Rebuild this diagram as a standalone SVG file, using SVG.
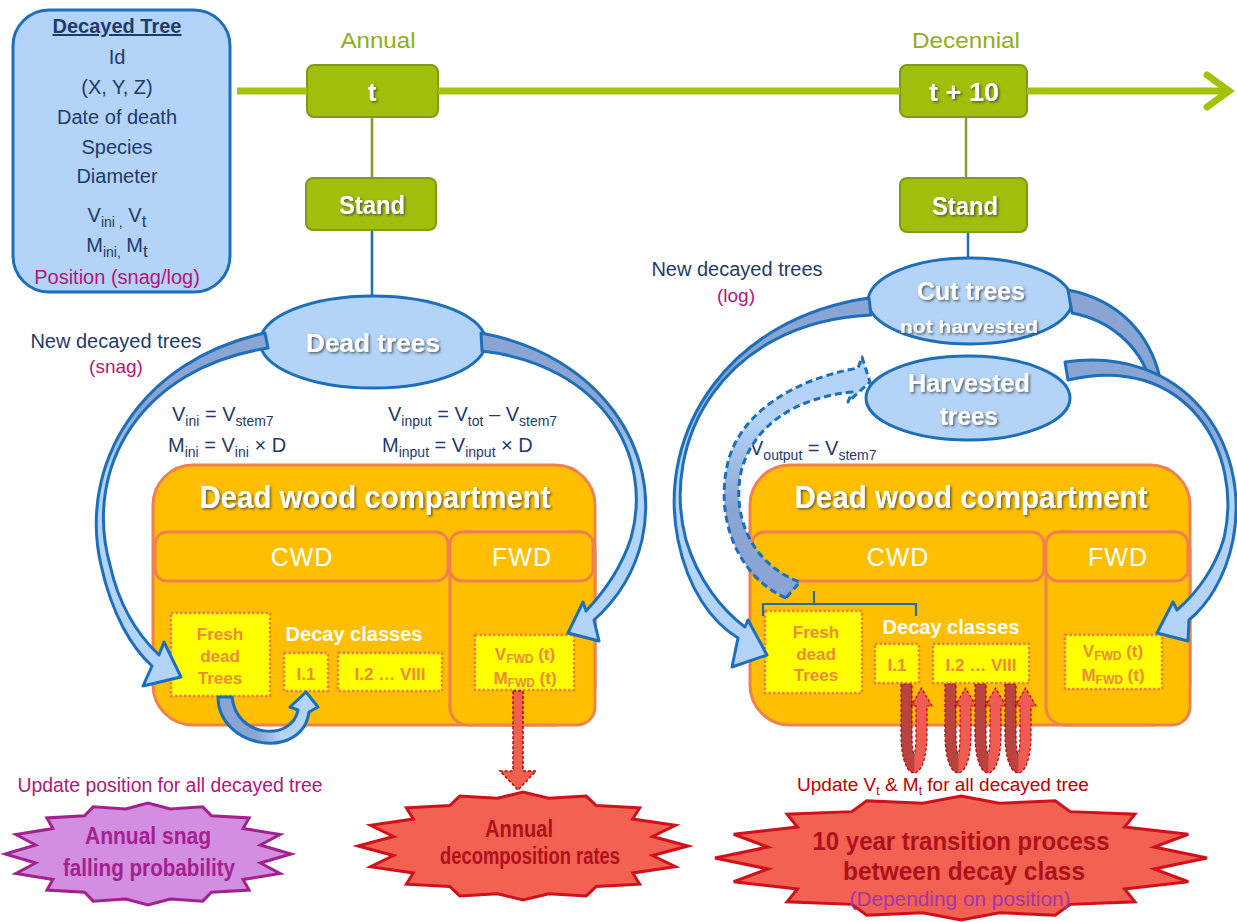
<svg xmlns="http://www.w3.org/2000/svg" xmlns:xlink="http://www.w3.org/1999/xlink" width="1237" height="922" viewBox="0 0 1237 922">
<style>
text{font-family:"Liberation Sans",Arial,sans-serif}
.navy{fill:#1f3a6e;font-size:20px}
.mag{fill:#b3157d}
.green{fill:#8fae17;font-size:22px}
.wt{fill:#fff;font-weight:bold;filter:url(#ts)}
.cw{fill:#fff;font-size:25px;letter-spacing:1px}
.or{fill:#ef8a3a;font-weight:bold;font-size:17px}
.dc{fill:#fff;font-weight:bold;font-size:20px}
.gbox{fill:#9fbf0c;stroke:#7e9c12;stroke-width:2}
.ell{fill:#b3d3f8;stroke:#1e6fba;stroke-width:3}
.comp{fill:#ffbf00;stroke:#f0804f;stroke-width:3}
.ybox{fill:#ffff00;stroke:#f07d4f;stroke-width:2.5;stroke-dasharray:2.5 2}
.barr{stroke:#1e6fba;stroke-width:3;stroke-linejoin:round}
.uarr{fill:url(#ug);stroke:#c00000;stroke-width:1.2;stroke-dasharray:3 2}
.sub{font-size:14px}
.bt{font-weight:bold;font-size:23px}
</style>
<defs>
<filter id="ts" x="-10%" y="-30%" width="125%" height="160%"><feDropShadow dx="1.5" dy="1.5" stdDeviation="0.9" flood-color="#3a3a3a" flood-opacity="0.75"/></filter>
<polygon id="burst" vector-effect="non-scaling-stroke" points="1,0 0.785,0.176 0.924,0.383 0.665,0.5 0.707,0.707 0.444,0.748 0.383,0.924 0.156,0.883 0,1 -0.156,0.883 -0.383,0.924 -0.444,0.748 -0.707,0.707 -0.665,0.5 -0.924,0.383 -0.785,0.176 -1,0 -0.785,-0.176 -0.924,-0.383 -0.665,-0.5 -0.707,-0.707 -0.444,-0.748 -0.383,-0.924 -0.156,-0.883 0,-1 0.156,-0.883 0.383,-0.924 0.444,-0.748 0.707,-0.707 0.665,-0.5 0.924,-0.383 0.785,-0.176"/>
<linearGradient id="g1" gradientUnits="userSpaceOnUse" x1="0" y1="330" x2="0" y2="470"><stop offset="0" stop-color="#8aa5d3"/><stop offset="0.55" stop-color="#8aa5d3"/><stop offset="1" stop-color="#b3d3f8"/></linearGradient>
<linearGradient id="g2" gradientUnits="userSpaceOnUse" x1="0" y1="295" x2="0" y2="450"><stop offset="0" stop-color="#8aa5d3"/><stop offset="0.55" stop-color="#8aa5d3"/><stop offset="1" stop-color="#b3d3f8"/></linearGradient>
<linearGradient id="g3" gradientUnits="userSpaceOnUse" x1="0" y1="360" x2="0" y2="490"><stop offset="0" stop-color="#8aa5d3"/><stop offset="0.5" stop-color="#8aa5d3"/><stop offset="1" stop-color="#b3d3f8"/></linearGradient>
<linearGradient id="g4" gradientUnits="userSpaceOnUse" x1="222" y1="0" x2="300" y2="0"><stop offset="0" stop-color="#8aa5d3"/><stop offset="0.45" stop-color="#8aa5d3"/><stop offset="0.75" stop-color="#b3d3f8"/></linearGradient>
<linearGradient id="g5" gradientUnits="userSpaceOnUse" x1="0" y1="600" x2="0" y2="420"><stop offset="0" stop-color="#8aa5d3"/><stop offset="0.5" stop-color="#8aa5d3"/><stop offset="1" stop-color="#b3d3f8"/></linearGradient>
<linearGradient id="ug" x1="0" y1="0" x2="1" y2="0"><stop offset="0" stop-color="#b9443f"/><stop offset="0.4" stop-color="#b9443f"/><stop offset="0.46" stop-color="#ef5d52"/><stop offset="1" stop-color="#ef5d52"/></linearGradient>
<path id="uarrow" d="M0,0 L0,50 C0,102 26,102 26,50 L26,22 L31,22 L20.5,4 L10,22 L15,22 L15,50 C15,76 11,76 11,50 L11,0 Z"/>
</defs>
<rect width="1237" height="922" fill="#fff"/>

<!-- Decayed tree info box -->
<g id="decayed-tree">
<rect x="13" y="10" width="217" height="282" rx="36" fill="#b3d3f8" stroke="#1e6fba" stroke-width="3"/>
<text x="117" y="33" text-anchor="middle" class="navy" font-weight="bold" font-size="19" text-decoration="underline">Decayed Tree</text>
<text x="117" y="64" text-anchor="middle" class="navy">Id</text>
<text x="117" y="94" text-anchor="middle" class="navy">(X, Y, Z)</text>
<text x="117" y="124" text-anchor="middle" class="navy">Date of death</text>
<text x="117" y="154" text-anchor="middle" class="navy">Species</text>
<text x="117" y="183" text-anchor="middle" class="navy">Diameter</text>
<text x="117" y="222" text-anchor="middle" class="navy">V<tspan class="sub" dy="5">ini ,</tspan><tspan dy="-5"> V</tspan><tspan font-size="17" dy="5">t</tspan></text>
<text x="117" y="252" text-anchor="middle" class="navy">M<tspan class="sub" dy="5">ini,</tspan><tspan dy="-5"> M</tspan><tspan font-size="17" dy="5">t</tspan></text>
<text x="117" y="284" text-anchor="middle" class="mag" font-size="20">Position (snag/log)</text>
</g>

<!-- timeline labels and boxes -->
<g id="annual">
<text x="378" y="48" text-anchor="middle" class="green" textLength="75" lengthAdjust="spacingAndGlyphs">Annual</text>
</g>
<g id="decennial">
<text x="966" y="48" text-anchor="middle" class="green" textLength="108" lengthAdjust="spacingAndGlyphs">Decennial</text>
</g>
<g id="t">
<rect x="307" y="65" width="131" height="52" rx="7" class="gbox"/>
<text x="372" y="101" text-anchor="middle" class="wt" font-size="26">t</text>
</g>
<g id="t10">
<rect x="900" y="65" width="127" height="52" rx="7" class="gbox"/>
<text x="964" y="101" text-anchor="middle" class="wt" font-size="25" textLength="70" lengthAdjust="spacingAndGlyphs">t + 10</text>
</g>
<g id="stand-left">
<rect x="306" y="178" width="130" height="52" rx="7" class="gbox"/>
<text x="372" y="214" text-anchor="middle" class="wt" font-size="26" textLength="66" lengthAdjust="spacingAndGlyphs">Stand</text>
</g>
<g id="stand-right">
<rect x="900" y="178" width="127" height="54" rx="7" class="gbox"/>
<text x="965" y="215" text-anchor="middle" class="wt" font-size="26" textLength="66" lengthAdjust="spacingAndGlyphs">Stand</text>
</g>

<g id="dead-trees">
<ellipse cx="373" cy="342" rx="113" ry="46" class="ell"/>
<text x="373" y="352" text-anchor="middle" class="wt" font-size="26" textLength="134" lengthAdjust="spacingAndGlyphs">Dead trees</text>
</g>
<g id="cut-trees">
<ellipse cx="970" cy="301" rx="102" ry="43" class="ell"/>
<text x="971" y="300" text-anchor="middle" class="wt" font-size="26" textLength="108" lengthAdjust="spacingAndGlyphs">Cut trees</text>
<text x="969" y="333" text-anchor="middle" class="wt" font-size="19" textLength="138" lengthAdjust="spacingAndGlyphs">not harvested</text>
</g>
<g id="harvested-trees">
<ellipse cx="968" cy="398" rx="102" ry="42" class="ell"/>
<text x="969" y="392" text-anchor="middle" class="wt" font-size="26" textLength="122" lengthAdjust="spacingAndGlyphs">Harvested</text>
<text x="969" y="425" text-anchor="middle" class="wt" font-size="26" textLength="58" lengthAdjust="spacingAndGlyphs">trees</text>
</g>

<!-- annotations -->
<g id="label-snag">
<text x="116" y="348" text-anchor="middle" class="navy" font-size="19">New decayed trees</text>
<text x="116" y="373" text-anchor="middle" class="mag" font-size="19">(snag)</text>
</g>
<g id="label-log">
<text x="737" y="276" text-anchor="middle" class="navy" font-size="19">New decayed trees</text>
<text x="736" y="302" text-anchor="middle" class="mag" font-size="19">(log)</text>
</g>
<g id="formula-left">
<text x="172" y="421" class="navy">V<tspan class="sub" dy="5">ini</tspan><tspan dy="-5">  = V</tspan><tspan class="sub" font-size="16" dy="5">stem7</tspan></text>
<text x="168" y="452" class="navy">M<tspan class="sub" font-size="16" dy="5">ini</tspan><tspan dy="-5"> = V</tspan><tspan class="sub" font-size="16" dy="5">ini</tspan><tspan dy="-5"> × D</tspan></text>
</g>
<g id="formula-right">
<text x="388" y="421" class="navy">V<tspan class="sub" font-size="16" dy="5">input</tspan><tspan dy="-5"> = V</tspan><tspan class="sub" font-size="16" dy="5">tot</tspan><tspan dy="-5"> – V</tspan><tspan class="sub" font-size="16" dy="5">stem7</tspan></text>
<text x="382" y="452" class="navy">M<tspan class="sub" font-size="16" dy="5">input</tspan><tspan dy="-5">  = V</tspan><tspan class="sub" font-size="16" dy="5">input</tspan><tspan dy="-5"> × D</tspan></text>
</g>
<g id="formula-output">
<text x="750" y="455" class="navy">V<tspan class="sub" font-size="16" dy="5">output</tspan><tspan dy="-5"> = V</tspan><tspan class="sub" font-size="16" dy="5">stem7</tspan></text>
</g>

<!-- left compartment -->
<g id="compartment-left">
<rect x="153" y="465" width="442" height="260" rx="40" class="comp"/>
<rect x="450" y="532" width="145" height="193" rx="18" class="comp"/>
<rect x="155" y="532" width="293" height="49" rx="12" class="comp"/>
<rect x="450" y="532" width="143" height="49" rx="12" class="comp"/>
<text x="375" y="508" text-anchor="middle" class="wt" font-size="31" textLength="351" lengthAdjust="spacingAndGlyphs">Dead wood compartment</text>
<text x="302" y="566" text-anchor="middle" class="cw">CWD</text>
<text x="522" y="566" text-anchor="middle" class="cw">FWD</text>
<rect x="171" y="613" width="99" height="83" class="ybox"/>
<text x="220" y="640" text-anchor="middle" class="or">Fresh</text>
<text x="220" y="662" text-anchor="middle" class="or">dead</text>
<text x="220" y="684" text-anchor="middle" class="or">Trees</text>
<text x="354" y="641" text-anchor="middle" class="dc">Decay classes</text>
<rect x="284" y="653" width="44" height="38" class="ybox"/>
<text x="306" y="680" text-anchor="middle" class="or">I.1</text>
<rect x="338" y="653" width="104" height="38" class="ybox"/>
<text x="390" y="680" text-anchor="middle" class="or">I.2 … VIII</text>
<rect x="475" y="635" width="99" height="55" class="ybox"/>
<text x="525" y="660" text-anchor="middle" class="or">V<tspan font-size="12" dy="3">FWD</tspan><tspan dy="-3"> (t)</tspan></text>
<text x="525" y="684" text-anchor="middle" class="or">M<tspan font-size="12" dy="3">FWD</tspan><tspan dy="-3"> (t)</tspan></text>
</g>

<!-- right compartment -->
<g id="compartment-right">
<rect x="750" y="465" width="440" height="260" rx="40" class="comp"/>
<rect x="1046" y="532" width="144" height="193" rx="18" class="comp"/>
<rect x="752" y="532" width="292" height="49" rx="12" class="comp"/>
<rect x="1046" y="532" width="142" height="49" rx="12" class="comp"/>
<text x="971" y="508" text-anchor="middle" class="wt" font-size="31" textLength="353" lengthAdjust="spacingAndGlyphs">Dead wood compartment</text>
<text x="898" y="566" text-anchor="middle" class="cw">CWD</text>
<text x="1118" y="566" text-anchor="middle" class="cw">FWD</text>
<rect x="765" y="611" width="97" height="82" class="ybox"/>
<text x="816" y="638" text-anchor="middle" class="or">Fresh</text>
<text x="816" y="660" text-anchor="middle" class="or">dead</text>
<text x="816" y="681" text-anchor="middle" class="or">Trees</text>
<text x="951" y="634" text-anchor="middle" class="dc">Decay classes</text>
<rect x="875" y="644" width="44" height="39" class="ybox"/>
<text x="897" y="671" text-anchor="middle" class="or">I.1</text>
<rect x="933" y="644" width="96" height="39" class="ybox"/>
<text x="981" y="671" text-anchor="middle" class="or">I.2 … VIII</text>
<rect x="1065" y="635" width="97" height="54" class="ybox"/>
<text x="1113" y="657" text-anchor="middle" class="or">V<tspan font-size="12" dy="3">FWD</tspan><tspan dy="-3"> (t)</tspan></text>
<text x="1113" y="681" text-anchor="middle" class="or">M<tspan font-size="12" dy="3">FWD</tspan><tspan dy="-3"> (t)</tspan></text>
</g>

<!-- bottom labels -->
<g id="update-position">
<text x="170" y="792" text-anchor="middle" class="mag" font-size="20" textLength="305" lengthAdjust="spacingAndGlyphs">Update position for all decayed tree</text>
</g>
<g id="update-vm">
<text x="943" y="791" text-anchor="middle" fill="#c00000" font-size="19">Update V<tspan font-size="12" dy="4">t</tspan><tspan dy="-4"> &amp; M</tspan><tspan font-size="12" dy="4">t</tspan><tspan dy="-4"> for all decayed tree</tspan></text>
</g>

<!-- starbursts -->
<g id="snag-falling">
<use xlink:href="#burst" transform="translate(148,854) scale(143,51)" fill="#d28ee0" stroke="#a3218f" stroke-width="3"/>
<text x="148" y="844" text-anchor="middle" fill="#a3218f" class="bt" textLength="126" lengthAdjust="spacingAndGlyphs">Annual snag</text>
<text x="149" y="876" text-anchor="middle" fill="#a3218f" class="bt" textLength="172" lengthAdjust="spacingAndGlyphs">falling probability</text>
</g>
<g id="decomposition">
<use xlink:href="#burst" transform="translate(523,846) scale(165,54)" fill="#f26152" stroke="#d0101a" stroke-width="3"/>
<text x="519" y="837" text-anchor="middle" fill="#b0101a" class="bt" textLength="68" lengthAdjust="spacingAndGlyphs">Annual</text>
<text x="530" y="864" text-anchor="middle" fill="#b0101a" class="bt" textLength="180" lengthAdjust="spacingAndGlyphs">decomposition rates</text>
</g>
<g id="transition">
<use xlink:href="#burst" transform="translate(961,858) scale(246,62)" fill="#f26152" stroke="#d0101a" stroke-width="3"/>
<text x="961" y="850" text-anchor="middle" fill="#b0101a" font-weight="bold" font-size="25" textLength="297" lengthAdjust="spacingAndGlyphs">10 year transition process</text>
<text x="964" y="880" text-anchor="middle" fill="#b0101a" font-weight="bold" font-size="25" textLength="242" lengthAdjust="spacingAndGlyphs">between decay class</text>
<text x="960" y="906" text-anchor="middle" fill="#a335a8" font-size="20" textLength="221" lengthAdjust="spacingAndGlyphs">(Depending on position)</text>
</g>

<!-- connectors -->
<g id="connectors" fill="none">
<line x1="237" y1="91" x2="307" y2="91" stroke="#a3c20a" stroke-width="7"/>
<line x1="438" y1="91" x2="900" y2="91" stroke="#a3c20a" stroke-width="7"/>
<line x1="1027" y1="91" x2="1226" y2="91" stroke="#a3c20a" stroke-width="7"/>
<polyline points="1207,75 1229,91 1207,107" stroke="#a3c20a" stroke-width="7" stroke-linecap="round" stroke-linejoin="miter"/>
<line x1="372" y1="118" x2="372" y2="177" stroke="#8a9b22" stroke-width="2.5"/>
<line x1="966" y1="118" x2="966" y2="177" stroke="#8a9b22" stroke-width="2.5"/>
<line x1="372" y1="231" x2="372" y2="296" stroke="#1e6fba" stroke-width="2.5"/>
<line x1="968" y1="233" x2="968" y2="258" stroke="#1e6fba" stroke-width="2.5"/>
<!-- left: dead trees -> fresh (snag) -->
<path class="barr" fill="url(#g1)" d="M265,333 C140,360 78,465 101,565 C112,615 132,648 152,666 L143,686 L181,677 L164,642 L159,655 C140,637 120,610 110,565 C83,468 140,368 268,348 Z"/>
<!-- left: dead trees -> FWD -->
<path class="barr" fill="url(#g1)" d="M481,333 C600,355 662,450 642,540 C633,578 612,604 594,620 L599,641 L568,633 L583,602 L586,611 C604,592 622,566 631,538 C654,455 602,365 482,351 Z"/>
<!-- small arrow fresh -> I.1 -->
<path class="barr" fill="url(#g4)" stroke-width="2.5" d="M218,697 C218,748 302,762 309,712 L318,707 L306,692 L290,707 L298,710 C292,742 236,738 232,697 Z"/>
<!-- FWD -> annual decomposition -->
<path d="M513,691 L523,691 L523,771 L536,771 L518,790 L500,771 L513,771 Z" fill="#f0604f" stroke="#c00000" stroke-width="1.5" stroke-dasharray="3 2"/>
<!-- right: cut trees -> fresh (log) -->
<path class="barr" fill="url(#g2)" d="M869,298 C730,318 656,430 678,540 C688,590 712,622 738,638 L732,667 L767,655 L748,620 L745,627 C722,610 698,580 686,540 C660,442 722,322 871,315 Z"/>
<!-- cut trees right band -->
<path class="barr" fill="#8aa5d3" d="M1068,290 C1120,300 1150,335 1160,378 L1150,381 C1140,346 1110,320 1072,313 Z"/>
<!-- right: harvested -> FWD -->
<path class="barr" fill="url(#g3)" d="M1065,362 C1182,345 1252,440 1233,540 C1225,580 1206,606 1189,620 L1188,641 L1157,633 L1173,602 L1177,610 C1198,592 1216,566 1224,538 C1244,452 1186,352 1068,380 Z"/>
<!-- dashed: CWD -> harvested -->
<path fill="url(#g5)" stroke="#1e6fba" stroke-width="3" stroke-dasharray="7 4" stroke-linejoin="round" d="M786,598 C735,575 715,515 728,462 C740,415 790,380 858,368 L862,357 L870,382 L848,402 L852,392 C795,398 755,425 742,468 C730,515 752,565 800,582 Z"/>
<!-- bracket -->
<path d="M763,616 L763,604 L916,604 L916,616 M814,604 L814,591" stroke="#1c6fa3" stroke-width="2.2"/>
<!-- transition U arrows -->
<use xlink:href="#uarrow" class="uarr" transform="translate(901,684)"/>
<use xlink:href="#uarrow" class="uarr" transform="translate(945,684)"/>
<use xlink:href="#uarrow" class="uarr" transform="translate(975,684)"/>
<use xlink:href="#uarrow" class="uarr" transform="translate(1005,684)"/>
</g>
</svg>
